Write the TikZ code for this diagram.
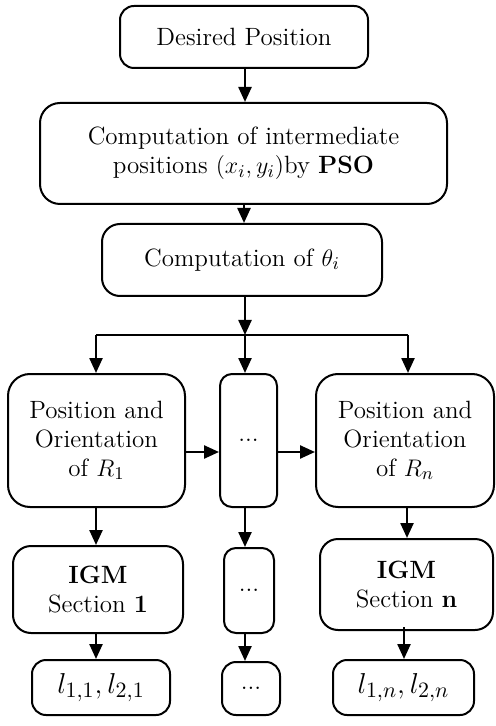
\documentclass[tikz,border=0pt]{standalone}
\usepackage{amsmath}
\usepackage{tikz}
\usetikzlibrary{arrows.meta}

\tikzset{
  box/.style={draw, line width=1pt, rounded corners=7pt, align=center, inner sep=2pt,
    font=\fontsize{12.5}{14.5}\selectfont},
  arr/.style={line width=1.2pt, -{Triangle[width=6.5pt,length=7.5pt]}},
  lenbox/.style={box, font=\fontsize{15}{18}\selectfont},
}

\begin{document}
\begin{tikzpicture}[x=0.5pt, y=-0.5pt]
		\useasboundingbox (0,0) rectangle (495,726);
		% top chain
		\node[box, minimum width=124pt, minimum height=31pt] (dp) at (244,37) {Desired Position};
		\node[box, minimum width=203.5pt, minimum height=50.5pt, rounded corners=10pt] (pso) at (243.5,153.5)
		{Computation of intermediate\\ positions $(x_i,y_i)$by \textbf{PSO}};
		\node[box, minimum width=140pt, minimum height=36pt, rounded corners=9pt] (theta) at (242,260) {Computation of $\theta_i$};
		% branch point
		\coordinate (jn) at (245,335);
		\coordinate (jl) at (96,335);
		\coordinate (jr) at (408,335);
		% robots
		\node[box, minimum width=88.5pt, minimum height=66.5pt, rounded corners=11pt] (por1) at (96.5,440.5)
		{Position and\\ Orientation\\ of $R_1$};
		\node[box, minimum width=28.5pt, minimum height=66.5pt, rounded corners=6pt] (pomid) at (248.5,440.5) {...};
		\node[box, minimum width=89pt, minimum height=66.5pt, rounded corners=11pt] (porn) at (405,440.5)
		{Position and\\ Orientation\\ of $R_n$};
		% IGM
		\node[box, minimum width=85pt, minimum height=43.5pt, rounded corners=9pt] (igm1) at (98,589.5)
		{\textbf{IGM}\\ Section \textbf{1}};
		\node[box, minimum width=25pt, minimum height=42.5pt, rounded corners=6pt] (igmmid) at (249,590.5) {...};
		\node[box, minimum width=86.5pt, minimum height=45.5pt, rounded corners=9pt] (igmn) at (406.5,584.5)
		{\textbf{IGM}\\ Section \textbf{n}};
		% lengths
		\node[lenbox, minimum width=69pt, minimum height=27.5pt] (l1) at (101,687.5) {$l_{1,1}, l_{2,1}$};
		\node[box, minimum width=29pt, minimum height=26.5pt] (lmid) at (251,688.5) {...};
		\node[lenbox, minimum width=70.5pt, minimum height=27.5pt] (ln) at (403.5,687.5) {$l_{1,n}, l_{2,n}$};

		\path[arr]
		(dp.south -| jn) edge (pso.north -| jn)
		(pso.south -| 244,0) edge (theta.north -| 244,0)
		(theta.south -| jn) edge (jn)
		(jl) edge (jl |- por1.north)
		(jn) edge (jn |- pomid.north)
		(jr) edge (jr |- porn.north)
		(96,452 -| por1.east) edge (96,452 -| pomid.west)
		(96,452 -| pomid.east) edge (96,452 -| porn.west)
		(por1.south -| jl) edge (igm1.north -| jl)
		(pomid.south -| jn) edge (igmmid.north -| jn)
		(porn.south -| 407,0) edge (igmn.north -| 407,0)
		(igm1.south -| jl) edge (l1.north -| jl)
		(igmmid.south -| jn) edge (lmid.north -| jn)
		([yshift=2pt]igmn.south -| 404,0) edge (ln.north -| 404,0);
		\draw[line width=1.2pt] (jl) -- (jr);

\end{tikzpicture}
\end{document}
